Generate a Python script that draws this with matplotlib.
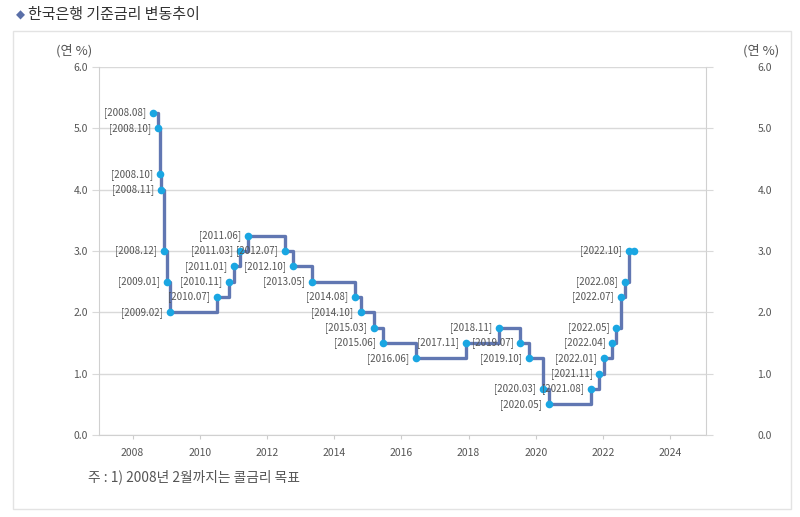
import matplotlib
matplotlib.use('Agg')
import matplotlib.pyplot as plt
import pandas as pd
from matplotlib.patches import Rectangle

plt.rcParams['font.family'] = ['Noto Sans CJK KR', 'DejaVu Sans']

# 기준금리 변경일과 금리 (연 %)
change_dates = [
    '2008-08-07', '2008-10-09', '2008-10-27', '2008-11-07', '2008-12-11',
    '2009-01-09', '2009-02-12', '2010-07-09', '2010-11-16', '2011-01-13',
    '2011-03-10', '2011-06-10', '2012-07-12', '2012-10-11', '2013-05-09',
    '2014-08-14', '2014-10-15', '2015-03-12', '2015-06-11', '2016-06-09',
    '2017-11-30', '2018-11-30', '2019-07-18', '2019-10-16', '2020-03-17',
    '2020-05-28', '2021-08-26', '2021-11-25', '2022-01-14', '2022-04-14',
    '2022-05-26', '2022-07-13', '2022-08-25', '2022-10-12', '2022-12-05',
]
rates = [
    5.25, 5.00, 4.25, 4.00, 3.00,
    2.50, 2.00, 2.25, 2.50, 2.75,
    3.00, 3.25, 3.00, 2.75, 2.50,
    2.25, 2.00, 1.75, 1.50, 1.25,
    1.50, 1.75, 1.50, 1.25, 0.75,
    0.50, 0.75, 1.00, 1.25, 1.50,
    1.75, 2.25, 2.50, 3.00, 3.00,
]
point_labels = [
    '[2008.08]', '[2008.10]', '[2008.10]', '[2008.11]', '[2008.12]',
    '[2009.01]', '[2009.02]', '[2010.07]', '[2010.11]', '[2011.01]',
    '[2011.03]', '[2011.06]', '[2012.07]', '[2012.10]', '[2013.05]',
    '[2014.08]', '[2014.10]', '[2015.03]', '[2015.06]', '[2016.06]',
    '[2017.11]', '[2018.11]', '[2019.07]', '[2019.10]', '[2020.03]',
    '[2020.05]', '[2021.08]', '[2021.11]', '[2022.01]', '[2022.04]',
    '[2022.05]', '[2022.07]', '[2022.08]', '[2022.10]', '',
]
year_ticks = [2008, 2010, 2012, 2014, 2016, 2018, 2020, 2022, 2024]
rate_ticks = [0.0, 1.0, 2.0, 3.0, 4.0, 5.0, 6.0]

dates = pd.to_datetime(change_dates)
x = (dates.year + (dates.dayofyear - 1) / (365 + dates.is_leap_year)).to_numpy()

line_color = '#6177b2'
dot_color = '#1aa6e2'
text_color = '#555555'
grid_color = '#d9d9d9'

fig = plt.figure(figsize=(8, 5.17), dpi=100)

# 바깥 테두리
fig.patches.append(Rectangle((13 / 800, 1 - 509 / 517), 778 / 800, 478 / 517,
                             transform=fig.transFigure, facecolor='white',
                             edgecolor='#e3e3e3', linewidth=1, zorder=-10))

fig.text(16 / 800, 1 - 15 / 517, '◆', color='#5a6fa8', fontsize=8.5,
         ha='left', va='center', family=['DejaVu Sans'])
fig.text(28 / 800, 1 - 15 / 517, '한국은행 기준금리 변동추이', color='#333333',
         fontsize=10.8, ha='left', va='center')

ax = fig.add_axes([99 / 800, 1 - 435 / 517, 607 / 800, 368 / 517])
ax.set_facecolor('none')
ax.set_xlim(2007.0, 2025.07)
ax.set_ylim(0, 6)

ax.step(x, rates, where='post', color=line_color, linewidth=2.4, zorder=2)
ax.plot(x, rates, 'o', color=dot_color, markersize=5.5, markeredgewidth=0, zorder=3)

for xi, yi, lab in zip(x, rates, point_labels):
    if lab:
        ax.annotate(lab, (xi, yi), xytext=(-5, 0), textcoords='offset points',
                    ha='right', va='center', fontsize=7, color=text_color,
                    zorder=4)

ax.set_yticks(rate_ticks)
ax.set_yticklabels([f'{v:.1f}' for v in rate_ticks])
ax.set_xticks(year_ticks)
ax.set_xticklabels([str(y) for y in year_ticks])
ax.grid(axis='y', color=grid_color, linewidth=1, zorder=0)
ax.tick_params(axis='y', length=5, color=grid_color, labelsize=7.5, labelcolor=text_color, pad=3)
ax.tick_params(axis='x', length=3, color='#cccccc', labelsize=7.5, labelcolor=text_color, pad=6)
for side in ['left', 'right', 'bottom']:
    ax.spines[side].set_color('#d0d0d0')
ax.spines['top'].set_visible(False)

ax2 = ax.twinx()
ax2.set_ylim(0, 6)
ax2.set_yticks(rate_ticks)
ax2.set_yticklabels([f'{v:.1f}' for v in rate_ticks])
ax2.tick_params(axis='y', length=5, color=grid_color, labelsize=7.5, labelcolor=text_color, pad=32)
for side in ['left', 'right', 'bottom', 'top']:
    ax2.spines[side].set_visible(False)

fig.text(74 / 800, 1 - 51 / 517, '(연 %)', color=text_color, fontsize=9.5,
         ha='center', va='center')
fig.text(761 / 800, 1 - 51 / 517, '(연 %)', color=text_color, fontsize=9.5,
         ha='center', va='center')
fig.text(88 / 800, 1 - 477 / 517, '주 : 1) 2008년 2월까지는 콜금리 목표', color=text_color,
         fontsize=9.9, ha='left', va='center')

fig.savefig('out.png', dpi=100)
